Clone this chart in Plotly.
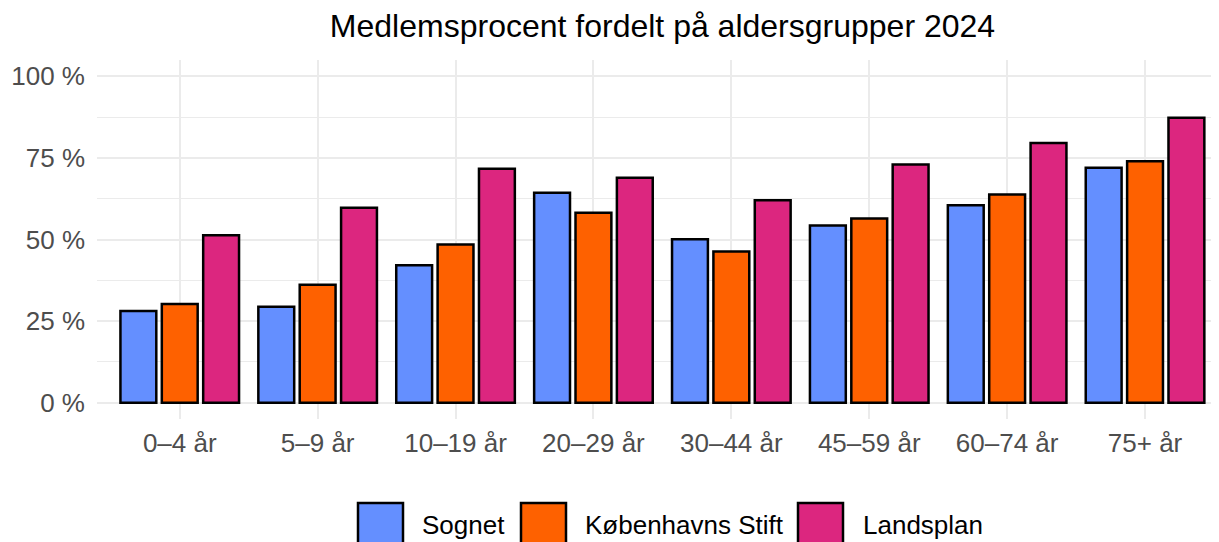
import plotly.graph_objects as go

categories = ["0–4 år", "5–9 år", "10–19 år", "20–29 år", "30–44 år", "45–59 år", "60–74 år", "75+ år"]
series_names = ["Sognet", "Københavns Stift", "Landsplan"]
sognet = [28.1, 29.4, 42.1, 64.3, 50.1, 54.3, 60.5, 72.0]
kbh_stift = [30.2, 36.1, 48.5, 58.2, 46.3, 56.4, 63.8, 74.0]
landsplan = [51.3, 59.7, 71.7, 68.9, 62.0, 73.0, 79.6, 87.3]
y_ticks = [0, 25, 50, 75, 100]
y_tick_labels = ["0 %", "25 %", "50 %", "75 %", "100 %"]
colors = ["#648FFF", "#FE6100", "#DC267F"]

# the page body has an 8px margin; size the figure so it ends at the window edge
OFF = 8
WIN_W, WIN_H = 1219, 542
W, H = WIN_W - OFF, WIN_H - OFF
FONT = "Liberation Sans, Arial, sans-serif"


def fx(px):  # window x -> figure x
    return px - OFF


def fy(py):  # window y -> figure y
    return py - OFF


fig = go.Figure()
for name, vals, col in zip(series_names, [sognet, kbh_stift, landsplan], colors):
    fig.add_trace(go.Bar(
        x=list(range(len(categories))), y=vals, name=name,
        marker=dict(color=col, line=dict(color="black", width=2.5)),
        showlegend=False,
    ))

panel_left, panel_top, panel_bottom = 97, 60, 419
ml = fx(panel_left)
mt = fy(panel_top)
mb = WIN_H - panel_bottom
mr = 0
pw = W - ml - mr
ph = H - mt - mb
unit = 137.9
x_end = -0.6 + pw / unit

fig.update_layout(
    width=W, height=H,
    margin=dict(l=ml, r=mr, t=mt, b=mb, autoexpand=False),
    paper_bgcolor="white", plot_bgcolor="white",
    barmode="group", bargap=0.1, bargroupgap=0.133,
    font=dict(family=FONT),
    title=dict(text="Medlemsprocent fordelt på aldersgrupper 2024",
               font=dict(size=32, color="black", family=FONT),
               xref="container", yref="container",
               x=fx(662.5) / W, xanchor="center", y=1 - fy(26) / H, yanchor="middle"),
    xaxis=dict(
        range=[-0.6, x_end], tickmode="array",
        tickvals=list(range(len(categories))), ticktext=categories,
        showgrid=True, gridcolor="#EBEBEB", gridwidth=2.3,
        zeroline=False, showline=False, ticks="",
        tickfont=dict(size=26, color="#4D4D4D", family=FONT),
        ticklabelstandoff=6,
    ),
    yaxis=dict(
        range=[-5, 105], tickmode="array", tickvals=y_ticks, ticktext=y_tick_labels,
        showgrid=True, gridcolor="#EBEBEB", gridwidth=2.3,
        zeroline=False, showline=False, ticks="",
        tickfont=dict(size=26, color="#4D4D4D", family=FONT),
        ticklabelstandoff=11,
        minor=dict(tickvals=[12.5, 37.5, 62.5, 87.5], showgrid=True,
                   gridcolor="#EBEBEB", gridwidth=1.2),
    ),
)

# legend drawn manually (large keys like the reference)
legend_boxes = [358, 521, 798]
legend_texts = [420, 583, 861]
box_w = 45
box_top = 503
text_mid = 525
for name, col, bx, tx in zip(series_names, colors, legend_boxes, legend_texts):
    fig.add_shape(type="rect", xref="paper", yref="paper",
                  x0=(fx(bx) - ml) / pw, x1=(fx(bx + box_w) - ml) / pw,
                  y0=(H - mb - fy(box_top + box_w)) / ph,
                  y1=(H - mb - fy(box_top)) / ph,
                  fillcolor=col, line=dict(color="black", width=2.5))
    fig.add_annotation(text=name, xref="paper", yref="paper",
                       x=(fx(tx) - ml) / pw,
                       y=(H - mb - fy(text_mid)) / ph,
                       xanchor="left", yanchor="middle", showarrow=False,
                       font=dict(size=26, color="black", family=FONT))

fig.write_html("out.html")
